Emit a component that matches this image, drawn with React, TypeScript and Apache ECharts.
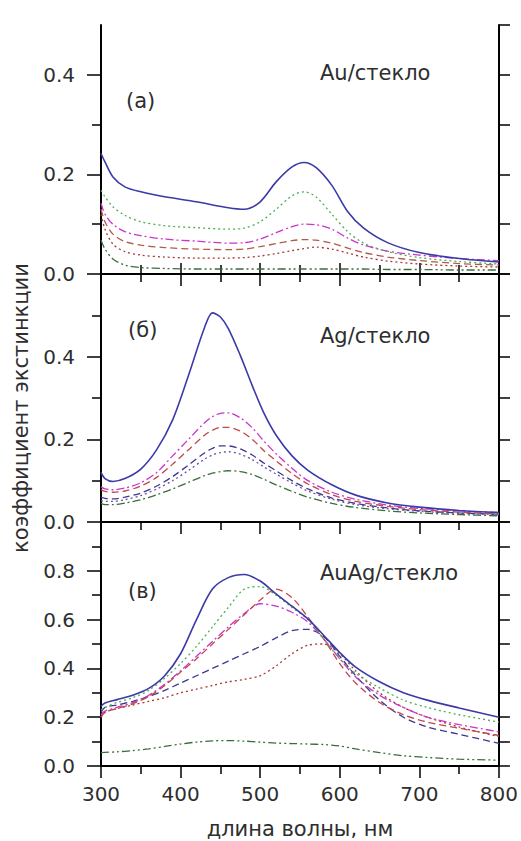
import React, { useEffect, useRef } from "react";
import * as echarts from "echarts";

// ---------- Data ----------
const WL_A = [300, 305, 315, 330, 350, 380, 420, 460, 480, 500, 520, 540, 555, 570, 590, 610, 630, 660, 700, 750, 800];
const A_BLUE = [0.242, 0.225, 0.195, 0.175, 0.165, 0.155, 0.145, 0.133, 0.13, 0.145, 0.185, 0.215, 0.224, 0.214, 0.178, 0.125, 0.092, 0.063, 0.043, 0.031, 0.024];
const A_GREEN = [0.168, 0.155, 0.135, 0.118, 0.105, 0.097, 0.093, 0.09, 0.092, 0.105, 0.13, 0.157, 0.165, 0.155, 0.12, 0.085, 0.062, 0.045, 0.033, 0.025, 0.02];
const A_MAGENTA = [0.142, 0.12, 0.1, 0.085, 0.077, 0.07, 0.066, 0.062, 0.063, 0.07, 0.083, 0.095, 0.1, 0.099, 0.09, 0.072, 0.058, 0.046, 0.038, 0.031, 0.027];
const A_BROWN = [0.13, 0.105, 0.08, 0.065, 0.058, 0.053, 0.05, 0.049, 0.05, 0.055, 0.061, 0.067, 0.069, 0.068, 0.062, 0.052, 0.043, 0.034, 0.027, 0.021, 0.018];
const A_RED = [0.12, 0.09, 0.06, 0.045, 0.038, 0.034, 0.032, 0.032, 0.033, 0.036, 0.041, 0.047, 0.051, 0.054, 0.05, 0.042, 0.034, 0.026, 0.02, 0.016, 0.014];
const A_DKGREEN = [0.068, 0.05, 0.03, 0.018, 0.013, 0.011, 0.01, 0.01, 0.01, 0.01, 0.01, 0.01, 0.01, 0.01, 0.01, 0.01, 0.01, 0.009, 0.009, 0.008, 0.008];

const WL_B = [300, 305, 315, 330, 350, 370, 390, 410, 430, 440, 450, 460, 475, 490, 505, 520, 540, 560, 590, 620, 660, 700, 750, 800];
const B_BLUE = [0.12, 0.105, 0.098, 0.105, 0.128, 0.175, 0.247, 0.355, 0.47, 0.506, 0.496, 0.468, 0.403, 0.33, 0.262, 0.21, 0.16, 0.125, 0.09, 0.065, 0.046, 0.036, 0.028, 0.023];
const B_MAGENTA = [0.085, 0.08, 0.078, 0.082, 0.095, 0.12, 0.16, 0.2, 0.24, 0.255, 0.263, 0.264, 0.252, 0.228, 0.195, 0.165, 0.13, 0.1, 0.072, 0.055, 0.041, 0.033, 0.027, 0.023];
const B_RED = [0.078, 0.074, 0.072, 0.075, 0.087, 0.108, 0.14, 0.175, 0.21, 0.222, 0.229, 0.229, 0.22, 0.2, 0.172, 0.148, 0.117, 0.092, 0.066, 0.05, 0.038, 0.03, 0.024, 0.02];
const B_NAVY = [0.06, 0.057, 0.056, 0.06, 0.07, 0.087, 0.11, 0.138, 0.167, 0.178, 0.184, 0.184, 0.177, 0.162, 0.142, 0.124, 0.1, 0.08, 0.058, 0.045, 0.034, 0.027, 0.022, 0.019];
const B_PURPLE = [0.052, 0.05, 0.05, 0.054, 0.064, 0.08, 0.1, 0.125, 0.152, 0.162, 0.168, 0.17, 0.164, 0.151, 0.133, 0.116, 0.094, 0.075, 0.055, 0.042, 0.032, 0.026, 0.021, 0.018];
const B_GREEN = [0.045, 0.042, 0.042, 0.046, 0.054, 0.066, 0.08, 0.096, 0.112, 0.118, 0.122, 0.124, 0.122, 0.115, 0.103, 0.09, 0.074, 0.06, 0.045, 0.035, 0.027, 0.022, 0.018, 0.015];

const WL_C = [300, 305, 320, 340, 360, 380, 400, 420, 440, 460, 480, 500, 520, 540, 560, 580, 600, 620, 650, 680, 710, 750, 800];
const C_BLUE = [0.245, 0.258, 0.272, 0.29, 0.318, 0.37, 0.46, 0.6, 0.725, 0.772, 0.785, 0.758, 0.705, 0.655, 0.603, 0.535, 0.465, 0.405, 0.345, 0.3, 0.27, 0.238, 0.2];
const C_GREEN = [0.23, 0.24, 0.26, 0.28, 0.31, 0.36, 0.42, 0.49, 0.57, 0.65, 0.725, 0.735, 0.7, 0.65, 0.6, 0.52, 0.44, 0.38, 0.32, 0.27, 0.24, 0.21, 0.18];
const C_RED = [0.2, 0.22, 0.235, 0.255, 0.285, 0.33, 0.385, 0.44, 0.5, 0.56, 0.62, 0.68, 0.725, 0.69, 0.61, 0.52, 0.42, 0.34, 0.26, 0.21, 0.18, 0.155, 0.125];
const C_MAGENTA = [0.21, 0.225, 0.24, 0.26, 0.29, 0.335, 0.39, 0.45, 0.51, 0.57, 0.625, 0.665, 0.655, 0.63, 0.59, 0.52, 0.44, 0.365, 0.29, 0.24, 0.2, 0.17, 0.14];
const C_NAVY = [0.22, 0.24, 0.25, 0.265, 0.285, 0.31, 0.34, 0.37, 0.4, 0.43, 0.46, 0.49, 0.525, 0.555, 0.56, 0.53, 0.45, 0.37, 0.27, 0.2, 0.16, 0.13, 0.093];
const C_MAROON = [0.2, 0.22, 0.235, 0.25, 0.265, 0.28, 0.3, 0.315, 0.33, 0.345, 0.355, 0.37, 0.41, 0.46, 0.495, 0.5, 0.46, 0.39, 0.3, 0.24, 0.2, 0.16, 0.12];
const C_DKGREEN = [0.055, 0.056, 0.058, 0.063, 0.07, 0.08, 0.09, 0.098, 0.103, 0.104, 0.102, 0.098, 0.094, 0.092, 0.09, 0.088, 0.082, 0.07, 0.055, 0.042, 0.035, 0.028, 0.024];

const X_TICKS = [300, 400, 500, 600, 700, 800];
const PANEL_MAX = [0.5, 0.6, 1.0];
const PANEL_MAJOR = [[0, 0.2, 0.4], [0, 0.2, 0.4], [0, 0.2, 0.4, 0.6, 0.8]];
const PANEL_MINOR = [[0.1, 0.3], [0.1, 0.3, 0.5], [0.1, 0.3, 0.5, 0.7, 0.9]];
const PANEL_LABELS = ["(а)", "(б)", "(в)"];
const PANEL_TITLES = ["Au/стекло", "Ag/стекло", "AuAg/стекло"];
const X_TITLE = "длина волны, нм";
const Y_TITLE = "коэффициент экстинкции";

// ---------- Styles ----------
const FONT = '"DejaVu Sans", sans-serif';
const TXT = "#2e2e2e";
const BLUE = "#3a3aa8";
const GREEN = "#4caf50";
const MAGENTA = "#cc33cc";
const RED = "#c04848";
const BROWN = "#b05a4a";
const MAROON = "#a83838";
const DKGREEN = "#3a6e3a";
const NAVY = "#3a3a90";
const PURPLE = "#7050a8";

const SOLID: any = "solid";
const DOT: any = [2, 3];
const DASH: any = [7, 4];
const DASHDOT: any = [8, 3, 2, 3];
const DASHDOTDOT: any = [8, 3, 2, 3, 2, 3];

const GRIDS = [
  { left: 101, top: 25, width: 398, height: 249 },
  { left: 101, top: 274, width: 398, height: 248 },
  { left: 101, top: 522, width: 398, height: 244 },
];

function mk(wl: number[], vals: number[], grid: number, color: string, type: any, width = 1.3) {
  return {
    type: "line",
    xAxisIndex: grid,
    yAxisIndex: grid,
    data: wl.map((w, i) => [w, vals[i]]),
    showSymbol: false,
    smooth: 0.3,
    lineStyle: { color, type, width },
    z: 3,
  };
}

export default function App() {
  const ref = useRef<HTMLDivElement>(null);
  useEffect(() => {
    if (!ref.current) return;
    const chart = echarts.init(ref.current, null, { renderer: "svg" });
    const axisLine = { show: true, lineStyle: { color: "#000", width: 2 } };

    const xAxes: any[] = [];
    for (let i = 0; i < 3; i++) {
      xAxes.push({
        gridIndex: i,
        type: "value",
        position: "bottom",
        min: 300,
        max: 800,
        interval: 100,
        axisLine,
        axisTick: { show: true, inside: false, length: 12, lineStyle: { color: "#000", width: 1.5 } },
        minorTick: { show: true, splitNumber: 2, length: 8, lineStyle: { color: "#000", width: 1.5 } },
        splitLine: { show: false },
        axisLabel: {
          show: i === 2,
          margin: 18,
          color: TXT,
          fontFamily: FONT,
          fontSize: 20,
          customValues: X_TICKS,
        },
      });
    }
    xAxes.push({
      gridIndex: 0,
      type: "value",
      position: "top",
      min: 300,
      max: 800,
      interval: 100,
      axisLine,
      axisTick: { show: true, inside: false, length: 11, lineStyle: { color: "#000", width: 1.5 } },
      minorTick: { show: true, splitNumber: 2, length: 9, lineStyle: { color: "#000", width: 1.5 } },
      splitLine: { show: false },
      axisLabel: { show: false },
    });

    const yAxes: any[] = [];
    for (let i = 0; i < 3; i++) {
      yAxes.push({
        gridIndex: i,
        type: "value",
        position: "left",
        min: 0,
        max: PANEL_MAX[i],
        interval: 0.1,
        axisLine,
        axisTick: { show: true, inside: false, length: 14, customValues: PANEL_MAJOR[i], lineStyle: { color: "#000", width: 1.5 } },
        splitLine: { show: false },
        axisLabel: {
          show: true,
          margin: 26,
          color: TXT,
          fontFamily: FONT,
          fontSize: 20,
          customValues: PANEL_MAJOR[i],
          formatter: (v: number) => v.toFixed(1),
        },
      });
    }
    for (let i = 0; i < 3; i++) {
      yAxes.push({
        gridIndex: i,
        type: "value",
        position: "left",
        min: 0,
        max: PANEL_MAX[i],
        interval: 0.1,
        axisLine: { show: false },
        axisTick: { show: true, inside: false, length: 9, customValues: PANEL_MINOR[i], lineStyle: { color: "#000", width: 1.5 } },
        splitLine: { show: false },
        axisLabel: { show: false },
      });
    }
    for (let i = 0; i < 3; i++) {
      yAxes.push({
        gridIndex: i,
        type: "value",
        position: "right",
        min: 0,
        max: PANEL_MAX[i],
        interval: 0.1,
        axisLine,
        axisTick: { show: true, inside: false, length: 11, lineStyle: { color: "#000", width: 1.5 } },
        splitLine: { show: false },
        axisLabel: { show: false },
      });
    }

    const series: any[] = [
      mk(WL_A, A_DKGREEN, 0, DKGREEN, DASHDOTDOT),
      mk(WL_A, A_RED, 0, MAROON, DOT),
      mk(WL_A, A_BROWN, 0, BROWN, DASH),
      mk(WL_A, A_MAGENTA, 0, MAGENTA, DASHDOT),
      mk(WL_A, A_GREEN, 0, GREEN, DOT),
      mk(WL_A, A_BLUE, 0, BLUE, SOLID, 1.6),

      mk(WL_B, B_GREEN, 1, DKGREEN, DASHDOT),
      mk(WL_B, B_PURPLE, 1, PURPLE, DOT),
      mk(WL_B, B_NAVY, 1, NAVY, DASH),
      mk(WL_B, B_RED, 1, RED, DASH),
      mk(WL_B, B_MAGENTA, 1, MAGENTA, DASHDOT),
      mk(WL_B, B_BLUE, 1, BLUE, SOLID, 1.6),

      mk(WL_C, C_DKGREEN, 2, DKGREEN, DASHDOTDOT),
      mk(WL_C, C_MAROON, 2, MAROON, DOT),
      mk(WL_C, C_NAVY, 2, NAVY, DASH),
      mk(WL_C, C_MAGENTA, 2, MAGENTA, DASHDOT),
      mk(WL_C, C_RED, 2, RED, DASH),
      mk(WL_C, C_GREEN, 2, GREEN, DOT),
      mk(WL_C, C_BLUE, 2, BLUE, SOLID, 1.6),
    ];

    const labelPos = [
      { lx: 126, ly: 101, tx: 320, ty: 73 },
      { lx: 128, ly: 330, tx: 320, ty: 336 },
      { lx: 128, ly: 591, tx: 320, ty: 573 },
    ];
    const graphics: any[] = [];
    for (let i = 0; i < 3; i++) {
      graphics.push({
        type: "text",
        x: labelPos[i].lx,
        y: labelPos[i].ly,
        style: { text: PANEL_LABELS[i], fill: TXT, font: `21px ${FONT}`, textAlign: "left", textVerticalAlign: "middle" },
      });
      graphics.push({
        type: "text",
        x: labelPos[i].tx,
        y: labelPos[i].ty,
        style: { text: PANEL_TITLES[i], fill: TXT, font: `21px ${FONT}`, textAlign: "left", textVerticalAlign: "middle" },
      });
    }
    graphics.push({
      type: "text",
      x: 300,
      y: 829,
      style: { text: X_TITLE, fill: TXT, font: `21px ${FONT}`, textAlign: "center", textVerticalAlign: "middle" },
    });
    graphics.push({
      type: "text",
      x: 21,
      y: 408,
      rotation: Math.PI / 2,
      style: { text: Y_TITLE, fill: TXT, font: `21px ${FONT}`, textAlign: "center", textVerticalAlign: "middle" },
    });

    chart.setOption({
      animation: false,
      backgroundColor: "#fff",
      grid: GRIDS,
      xAxis: xAxes,
      yAxis: yAxes,
      series,
      graphic: graphics,
    });
    return () => chart.dispose();
  }, []);
  return <div ref={ref} style={{ position: "fixed", left: 0, top: 0, width: 521, height: 841 }} />;
}
